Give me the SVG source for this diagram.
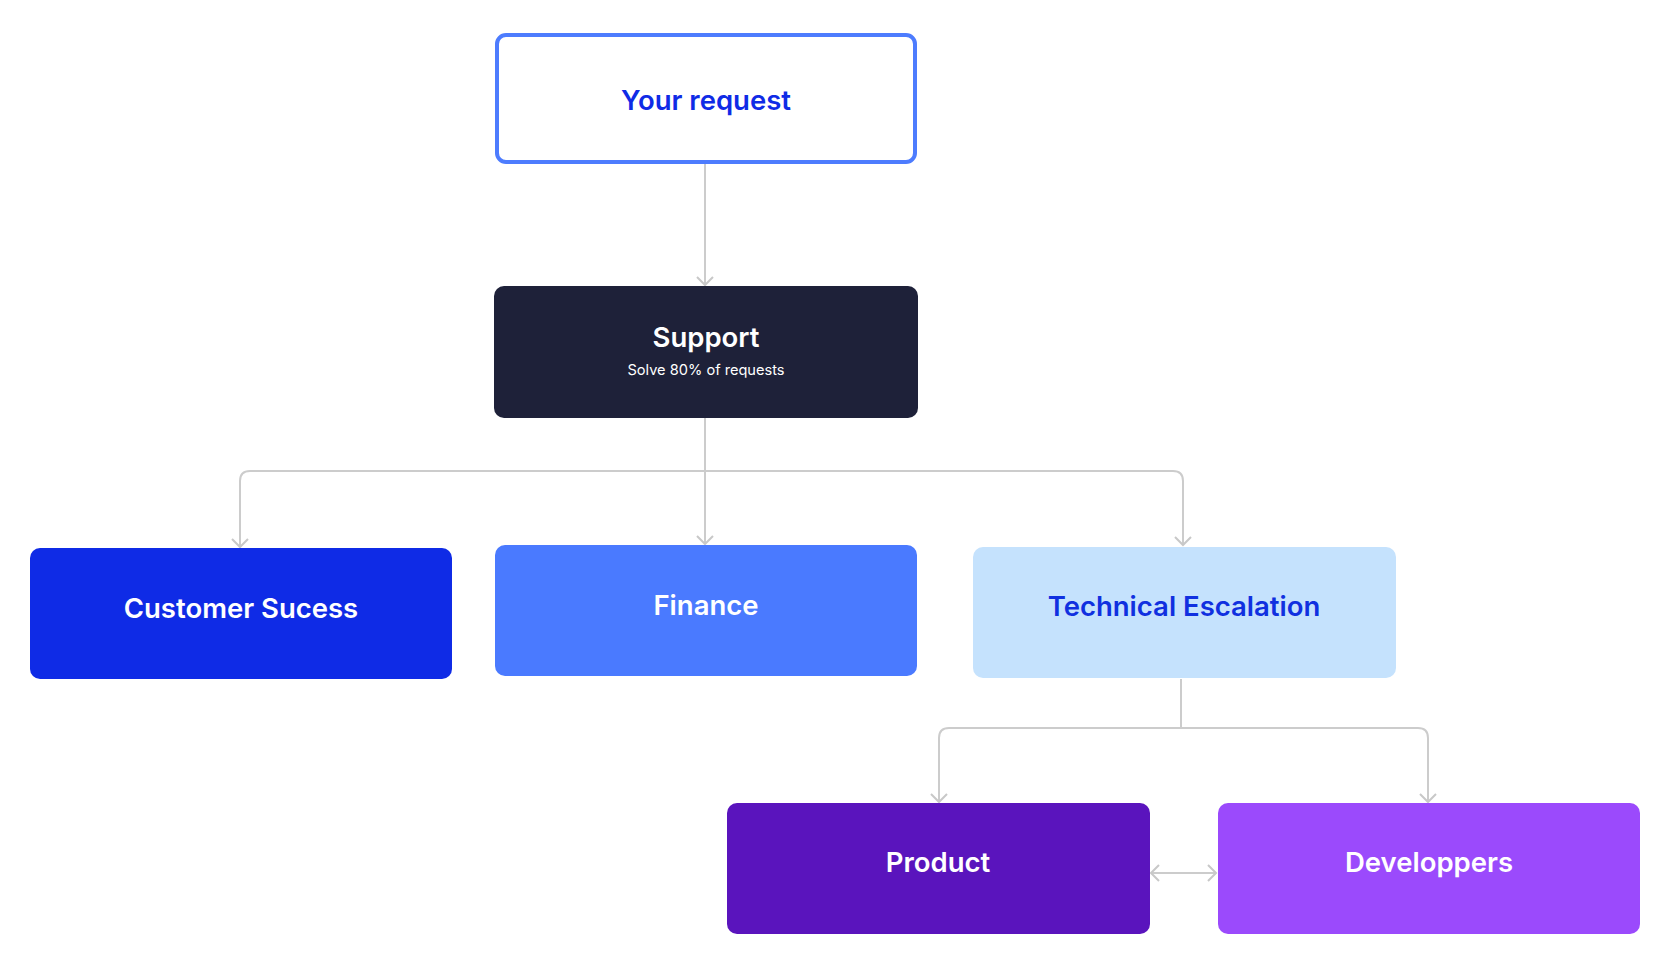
<svg xmlns="http://www.w3.org/2000/svg" width="1664" height="957" viewBox="0 0 1664 957">
<style>
.t{font-family:"Inter","Liberation Sans",sans-serif;font-weight:600;font-size:27.5px;text-anchor:middle}
.sub{font-family:"Inter","Liberation Sans",sans-serif;font-weight:400;font-size:14.6px;text-anchor:middle;fill:#ffffff}
.w{fill:#ffffff}
.c{fill:none;stroke:#cccccc;stroke-width:2}
</style>
<defs>
<marker id="arr" viewBox="0 0 20 20" refX="18" refY="10" markerWidth="20" markerHeight="20" markerUnits="userSpaceOnUse" orient="auto-start-reverse">
<path d="M10,2 L18,10 L10,18" fill="none" stroke="#c8c8c8" stroke-width="2"/>
</marker>
</defs>
<rect width="1664" height="957" fill="#ffffff"/>
<g id="connectors">
<path class="c" d="M705,164 V285" marker-end="url(#arr)"/>
<path class="c" d="M705,418 V471 H250 Q240,471 240,481 V547" marker-end="url(#arr)"/>
<path class="c" d="M705,418 V544" marker-end="url(#arr)"/>
<path class="c" d="M705,471 H1173 Q1183,471 1183,481 V545" marker-end="url(#arr)"/>
<path class="c" d="M1181,679 V728 H949 Q939,728 939,738 V802" marker-end="url(#arr)"/>
<path class="c" d="M1181,728 H1418 Q1428,728 1428,738 V802" marker-end="url(#arr)"/>
<path class="c" d="M1151,873 H1216" marker-start="url(#arr)" marker-end="url(#arr)"/>
</g>
<g id="your-request">
<rect x="497" y="35" width="418" height="127" rx="9" fill="#ffffff" stroke="#4d7cfe" stroke-width="4"/>
<text class="t" x="706" y="110" fill="#0f2be6">Your request</text>
</g>
<g id="support">
<rect x="494" y="286" width="424" height="132" rx="10" fill="#1e2139"/>
<text class="t w" x="706" y="347">Support</text>
<text class="sub" x="706" y="375">Solve 80% of requests</text>
</g>
<g id="customer-success">
<rect x="30" y="548" width="422" height="131" rx="10" fill="#0f2be6"/>
<text class="t w" x="241" y="618">Customer Sucess</text>
</g>
<g id="finance">
<rect x="495" y="545" width="422" height="131" rx="10" fill="#4a7aff"/>
<text class="t w" x="706" y="615">Finance</text>
</g>
<g id="technical-escalation">
<rect x="973" y="547" width="423" height="131" rx="10" fill="#c5e2fd"/>
<text class="t" x="1184" y="616" fill="#1030e0">Technical Escalation</text>
</g>
<g id="product">
<rect x="727" y="803" width="423" height="131" rx="10" fill="#5a14bd"/>
<text class="t w" x="938" y="872">Product</text>
</g>
<g id="developpers">
<rect x="1218" y="803" width="422" height="131" rx="10" fill="#9b4afc"/>
<text class="t w" x="1429" y="872">Developpers</text>
</g>
</svg>
